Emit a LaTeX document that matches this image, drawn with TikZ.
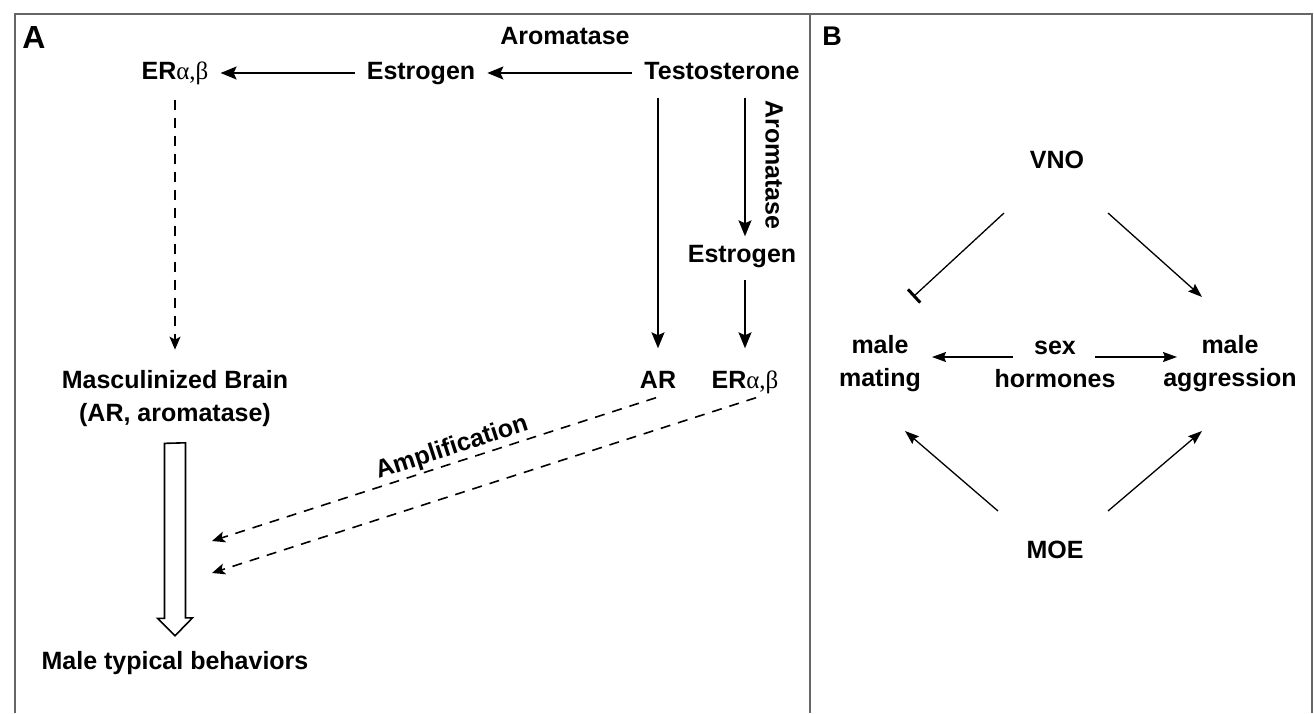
\documentclass[tikz,border=0pt]{standalone}
\usepackage{fontspec}
\setmainfont{Liberation Sans}
\newfontfamily\greekfont{Liberation Serif}
\usetikzlibrary{arrows.meta}

\newcommand{\ERab}{ER{\greekfont\mdseries α,β}}

\begin{document}
\begin{tikzpicture}[x=1pt, y=-1pt,
  every node/.style={font=\fontsize{25}{33}\selectfont\bfseries, inner xsep=12pt, inner ysep=8pt},
  term/.style={text height=18pt, text depth=5pt},
  panel/.style={font=\fontsize{32}{32}\selectfont\bfseries, inner sep=0pt},
  frame/.style={draw=black!60, line width=1.8pt},
  arr/.style={-{Stealth[length=16pt, width=13pt, inset=3pt]}, line width=1.6pt},
  dasharr/.style={-{Stealth[length=13pt, width=11pt, inset=3pt]}, line width=1.6pt, dash pattern=on 10pt off 8pt},
  hollow/.style={draw, line width=1.6pt, fill=white, line join=miter},
  barr/.style={-{Stealth[length=14pt, width=10pt, inset=2pt]}, line width=1.3pt},
  inhib/.style={-{Bar[width=18pt, line width=3pt]}, line width=1.3pt}
]
\useasboundingbox (0,0) rectangle (1314,713);

% Frames
\draw[frame] (15,713) -- (15,14) -- (1312,14) -- (1312,713);
\draw[frame] (810,14) -- (810,713);

% Panel A
\node[panel] (labA) at (34,37) {A};
\node (arom1) at (565,36) {Aromatase};
\node[term] (testo) at (722,73) {Testosterone};
\node[term] (estro1) at (421,73) {Estrogen};
\node[term] (er1) at (175,73) {\ERab};
\node[term] (estro2) at (742,256) {Estrogen};
\node[rotate=-90] (arom2) at (774,165) {Aromatase};
\node[term] (ar) at (658,382) {AR};
\node[term] (er2) at (745,382) {\ERab};
\node[align=center] (brain) at (175,399) {Masculinized Brain\\(AR, aromatase)};
\node[term] (behav) at (175,663) {Male typical behaviors};
\node[rotate=18] (amp) at (452,448) {Amplification};
\coordinate (ampTipA) at (212,541);
\coordinate (ampTipB) at (212,573);

\draw[arr] (testo) -- (estro1);
\draw[arr] (estro1) -- (er1);
\draw[dasharr, shorten <=7pt, shorten >=13pt] (er1.south) -- (brain.north);
\draw[arr, shorten <=5pt, shorten >=14pt] (ar |- testo.south) -- (ar.north);
\draw[arr, shorten <=5pt] (er2 |- testo.south) -- (er2 |- estro2.north);
\draw[arr, shorten <=4pt, shorten >=14pt] (er2 |- estro2.south) -- (er2.north);
\draw[dasharr] ([xshift=-2pt,yshift=4pt]ar.south) -- (ampTipA);
\draw[dasharr] ([xshift=11pt,yshift=4pt]er2.south) -- (ampTipB);

% hollow arrow
\draw[hollow] ([xshift=-10.5pt,yshift=-8pt]brain.south) -- ++(0,175) -- ++(-7,0)
  -- ([yshift=7.5pt]behav.north) -- ++(17.5,-18) -- ++(-7,0) -- ++(0,-175) -- cycle;

% Panel B
\node[panel, font=\fontsize{27}{27}\selectfont\bfseries] (labB) at (832,36) {B};
\node[term] (vno) at (1057,162) {VNO};
\node[term] (moe) at (1055,552) {MOE};
\node[align=center] (mating) at (880,364) {male\\mating};
\node[align=center] (sex) at (1055,364) {sex\\hormones};
\node[align=center] (aggr) at (1230,364) {male\\aggression};

\draw[barr] ([xshift=-42pt,yshift=7pt]sex.center) -- ([xshift=52pt,yshift=7pt]mating.center);
\draw[barr] ([xshift=40pt,yshift=7pt]sex.center) -- ([xshift=-53pt,yshift=7pt]aggr.center);
\draw[inhib] ([xshift=-53pt,yshift=-51pt]vno.center) -- ([xshift=33pt,yshift=67pt]mating.center);
\draw[barr] ([xshift=51pt,yshift=-51pt]vno.center) -- ([xshift=-28pt,yshift=67pt]aggr.center);
\draw[barr] ([xshift=-57pt,yshift=41pt]moe.center) -- ([xshift=25pt,yshift=-67pt]mating.center);
\draw[barr] ([xshift=53pt,yshift=41pt]moe.center) -- ([xshift=-28pt,yshift=-67pt]aggr.center);
\end{tikzpicture}
\end{document}
